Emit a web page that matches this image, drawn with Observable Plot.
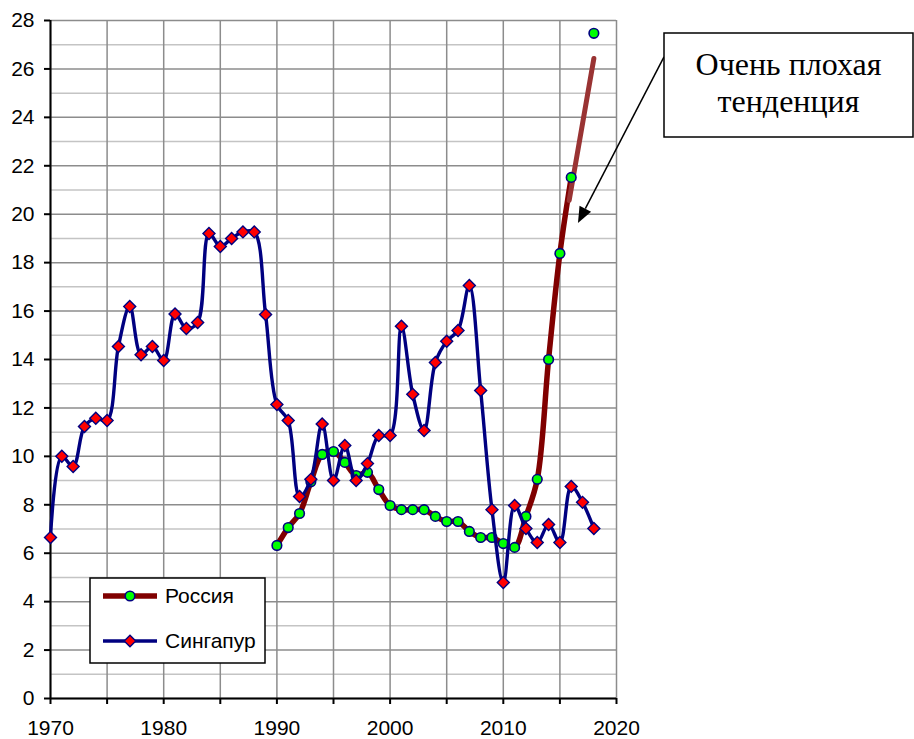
<!DOCTYPE html>
<html><head><meta charset="utf-8">
<script src="https://cdn.jsdelivr.net/npm/d3@7"></script>
<script src="https://cdn.jsdelivr.net/npm/@observablehq/plot@0.6"></script>
<style>body{margin:0;background:#fff;} #chart{position:relative;width:914px;height:739px;}</style>
</head><body><div id="chart"></div>
<script>
// --- data ---
const singaporeYears = d3.range(1970, 2019);
const singaporeValues = [6.65,10.0,9.58,11.23,11.57,11.48,14.54,16.19,14.2,14.54,
  13.96,15.88,15.28,15.53,19.2,18.67,19.0,19.27,19.27,15.86,
  12.14,11.48,8.34,9.05,11.34,9.0,10.45,9.0,9.7,10.86,
  10.86,15.37,12.56,11.07,13.88,14.75,15.2,17.06,12.72,7.8,
  4.79,7.97,7.02,6.44,7.19,6.44,8.76,8.1,7.02];
const russiaYears = d3.range(1990, 2017);
const russiaValues = [6.32,7.06,7.64,8.95,10.08,10.2,9.75,9.21,9.34,8.63,
  7.97,7.8,7.8,7.8,7.52,7.31,7.31,6.9,6.65,6.65,
  6.4,6.24,7.52,9.05,14.0,18.38,21.52];
const russiaExtraYears = [2018];
const russiaExtraValues = [27.47];
const trendYears = [2015.82, 2018];
const trendValues = [20.57, 26.43];
const seriesNames = ["Россия", "Сингапур"];
const noteLines = ["Очень плохая", "тенденция"];
const arrowFrom = {year: 2024.24, value: 26.48};
const arrowTo = {year: 2016.64, value: 19.62};
const yTicks = d3.range(0, 29, 2);
const yMinor = d3.range(1, 28, 2);
const xTicks = d3.range(1970, 2021, 5);

const sing = singaporeYears.map((y, i) => ({year: y, value: singaporeValues[i]}));
const rus = russiaYears.map((y, i) => ({year: y, value: russiaValues[i]}));
const rusExtra = russiaExtraYears.map((y, i) => ({year: y, value: russiaExtraValues[i]}));
const trend = trendYears.map((y, i) => ({year: y, value: trendValues[i]}));

const RED = "#800000", NAVY = "#000080";

const plot = Plot.plot({
  width: 914, height: 739,
  marginLeft: 50, marginRight: 298, marginTop: 20, marginBottom: 41,
  style: {fontFamily: "'Liberation Sans', Arial, sans-serif", background: "#fff", overflow: "visible"},
  x: {domain: [1970, 2020], label: null},
  y: {domain: [0, 28], label: null},
  marks: [
    Plot.ruleY(yMinor, {stroke: "#c4c4c4", strokeWidth: 1.5}),
    Plot.ruleY(yTicks, {stroke: "#8c8c8c", strokeWidth: 1.5}),
    Plot.ruleX(xTicks, {stroke: "#8c8c8c", strokeWidth: 1.5}),
    Plot.axisY({ticks: yTicks, label: null, tickSize: 6, tickPadding: 10, fontSize: 21, stroke: "#000", strokeWidth: 2, color: "#000"}),
    Plot.axisX({ticks: xTicks, label: null, tickFormat: d => d % 10 === 0 ? String(d) : "", tickSize: 6, tickPadding: 16, fontSize: 21, stroke: "#000", strokeWidth: 2, color: "#000"}),
    Plot.ruleX([1970], {stroke: "#000", strokeWidth: 2}),
    Plot.ruleY([0], {stroke: "#000", strokeWidth: 2}),
    Plot.line(rus, {x: "year", y: "value", stroke: RED, strokeWidth: 5.5, curve: "catmull-rom"}),
    Plot.line(trend, {x: "year", y: "value", stroke: "#993333", strokeWidth: 5}),
    Plot.dot(rus.concat(rusExtra), {x: "year", y: "value", r: 4.8, fill: "#00ff00", stroke: NAVY, strokeWidth: 1.6}),
    Plot.line(sing, {x: "year", y: "value", stroke: NAVY, strokeWidth: 3.4, curve: "catmull-rom"}),
    Plot.dot(sing, {x: "year", y: "value", symbol: "diamond2", r: 5.4, fill: "#ff0000", stroke: NAVY, strokeWidth: 1.4})
  ]
});
document.getElementById("chart").appendChild(plot);

const svg = d3.select(plot);
const xs = plot.scale("x"), ys = plot.scale("y");

// legend
const lg = svg.append("g").attr("text-anchor", "start");
lg.append("rect").attr("x", 90).attr("y", 578).attr("width", 175).attr("height", 85)
  .attr("fill", "#fff").attr("stroke", "#000").attr("stroke-width", 1.5);
const items = [{name: seriesNames[0], y: 596, color: RED, w: 5.5, sym: "circle"},
               {name: seriesNames[1], y: 641, color: NAVY, w: 3.4, sym: "diamond"}];
for (const it of items) {
  lg.append("line").attr("x1", 103).attr("x2", 157).attr("y1", it.y).attr("y2", it.y)
    .attr("stroke", it.color).attr("stroke-width", it.w);
  if (it.sym === "circle") {
    lg.append("circle").attr("cx", 130).attr("cy", it.y).attr("r", 4.8)
      .attr("fill", "#00ff00").attr("stroke", NAVY).attr("stroke-width", 1.6);
  } else {
    lg.append("path").attr("d", `M130,${it.y-5.8}L135.8,${it.y}L130,${it.y+5.8}L124.2,${it.y}Z`)
      .attr("fill", "#ff0000").attr("stroke", NAVY).attr("stroke-width", 1.4);
  }
  lg.append("text").attr("x", 165).attr("y", it.y).attr("dy", "0.35em").attr("text-anchor", "start")
    .attr("font-size", 21).attr("font-family", "'Liberation Sans', Arial, sans-serif")
    .attr("fill", "#000").text(it.name);
}

// annotation
const ag = svg.append("g");
const fx = xs.apply(arrowFrom.year), fy = ys.apply(arrowFrom.value);
const tx = xs.apply(arrowTo.year), ty = ys.apply(arrowTo.value);
const ang = Math.atan2(ty - fy, tx - fx);
const hl = 16, hw = 6.5;
const bx = tx - hl * Math.cos(ang), by = ty - hl * Math.sin(ang);
ag.append("line").attr("x1", fx).attr("y1", fy).attr("x2", bx).attr("y2", by)
  .attr("stroke", "#000").attr("stroke-width", 1.5);
ag.append("path").attr("d",
  `M${tx},${ty}L${bx + hw*Math.sin(ang)},${by - hw*Math.cos(ang)}L${bx - hw*Math.sin(ang)},${by + hw*Math.cos(ang)}Z`)
  .attr("fill", "#000");
ag.append("rect").attr("x", 664).attr("y", 33).attr("width", 249).attr("height", 104)
  .attr("fill", "#fff").attr("stroke", "#000").attr("stroke-width", 1.5);
noteLines.forEach((t, i) => {
  ag.append("text").attr("x", 788.5).attr("y", 75 + i * 37).attr("text-anchor", "middle")
    .attr("font-size", 32).attr("font-family", "'Liberation Serif', 'Times New Roman', serif")
    .attr("fill", "#000").text(t);
});
</script>
</body></html>
